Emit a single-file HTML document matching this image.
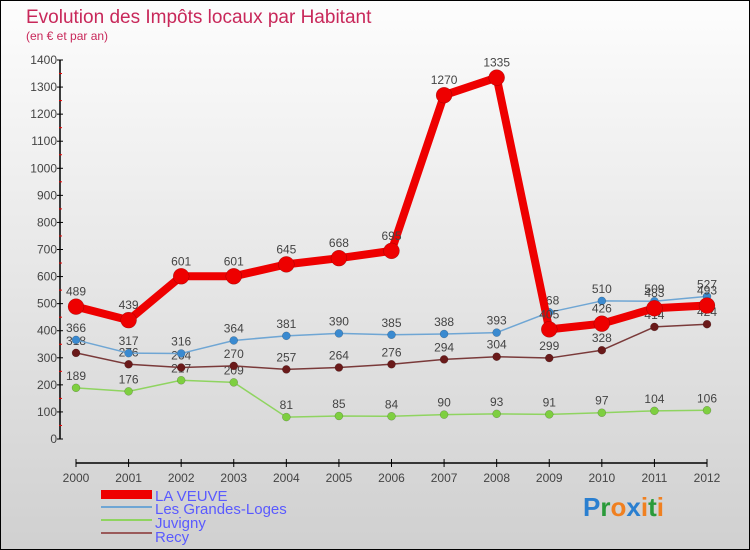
<!DOCTYPE html>
<html><head><meta charset="utf-8"><style>
body{margin:0}
#c{width:748px;height:548px;border:1px solid #000;background:linear-gradient(#fdfdfd,#d0d0d0);position:relative;overflow:hidden;font-family:"Liberation Sans",sans-serif}
</style></head><body>
<div id="c">
<svg id="s" width="748" height="548" xmlns="http://www.w3.org/2000/svg">
<text x="25" y="22" font-size="19" fill="#c8285a">Evolution des Impôts locaux par Habitant</text>
<text x="25" y="39" font-size="12" fill="#c8285a">(en € et par an)</text>
<g id="axes"></g><g id="series"></g>
<g>
<rect x="100" y="489" width="51" height="9" fill="#e00"/>
<line x1="100" y1="506" x2="151" y2="506" stroke="#6fa6d4" stroke-width="2"/>
<line x1="100" y1="519" x2="151" y2="519" stroke="#8fd460" stroke-width="2"/>
<line x1="100" y1="532" x2="151" y2="532" stroke="#9a5a5a" stroke-width="2"/>
<g font-size="15" fill="#5a5aff">
<text x="154" y="500">LA VEUVE</text>
<text x="154" y="513">Les Grandes-Loges</text>
<text x="154" y="527">Juvigny</text>
<text x="154" y="541">Recy</text>
</g></g>
<text x="582" y="515" font-size="26" font-weight="bold"><tspan fill="#2a7fd0">P</tspan><tspan fill="#2a9a3a">r</tspan><tspan fill="#f08020">o</tspan><tspan fill="#2a7fd0">x</tspan><tspan fill="#f08020">i</tspan><tspan fill="#2a9a3a">t</tspan><tspan fill="#f08020">i</tspan></text>
</svg></div>
<script>
const years=[2000,2001,2002,2003,2004,2005,2006,2007,2008,2009,2010,2011,2012];
const laVeuve=[489,439,601,601,645,668,695,1270,1335,405,426,483,493];
const grandesLoges=[366,317,316,364,381,390,385,388,393,468,510,509,527];
const juvigny=[189,176,217,209,81,85,84,90,93,91,97,104,106];
const recy=[318,276,264,270,257,264,276,294,304,299,328,414,424];
const yTicks=[0,100,200,300,400,500,600,700,800,900,1000,1100,1200,1300,1400];
const NS="http://www.w3.org/2000/svg";
const X=i=>75+i*(631/12);
const Y=v=>438-v*(379/1400);
function mk(t,a,p){const e=document.createElementNS(NS,t);for(const k in a)e.setAttribute(k,a[k]);p.appendChild(e);return e;}
const ax=document.getElementById('axes');
const ya=mk('line',{x1:59,y1:Y(1400),x2:59,y2:Y(0),stroke:'#000','stroke-width':1.5},ax);


yTicks.forEach(v=>{mk('line',{x1:56,y1:Y(v),x2:62,y2:Y(v),stroke:'#000'},ax);
 if(v<1400)mk('line',{x1:58,y1:Y(v+50),x2:61,y2:Y(v+50),stroke:'#e00'},ax);
 const t=mk('text',{x:56,y:Y(v)+4,'font-size':12,'text-anchor':'end',fill:'#444'},ax);t.textContent=v;
 
 });
const xa=mk('line',{x1:X(0),y1:462,x2:X(12),y2:462,stroke:'#000','stroke-width':1.5},ax);


years.forEach((y,i)=>{mk('line',{x1:X(i),y1:458,x2:X(i),y2:466,stroke:'#000'},ax);
 const t=mk('text',{x:X(i),y:481,'font-size':12,'text-anchor':'middle',fill:'#444'},ax);t.textContent=y;
 
 });
const sg=document.getElementById('series');
function series(d,col,w,r,name,dot){
 const g=mk('g',{},sg);
 
 
 mk('polyline',{points:d.map((v,i)=>X(i)+','+Y(v)).join(' '),fill:'none',stroke:col,'stroke-width':w,'stroke-linejoin':'round'},g);
 d.forEach((v,i)=>{const c=mk('circle',{cx:X(i),cy:Y(v),r:r,fill:dot||col,stroke:'rgba(0,0,0,0.3)','stroke-width':0.5},g);
  
  
  const t=mk('text',{x:X(i),y:Y(v)-8-(r>5?3:0),'font-size':12,'text-anchor':'middle',fill:'#444'},g);t.textContent=v;
  
  });
}
series(juvigny,'#8fd460',1.5,4,'series-juvigny','#7ecf40');
series(recy,'#7a3a3a',1.5,4,'series-recy','#6a1a1a');
series(grandesLoges,'#6fa6d4',1.5,4,'series-les-grandes-loges','#3a8ad0');
series(laVeuve,'#e00',8,8,'series-la-veuve','#e00');
</script></body></html>
